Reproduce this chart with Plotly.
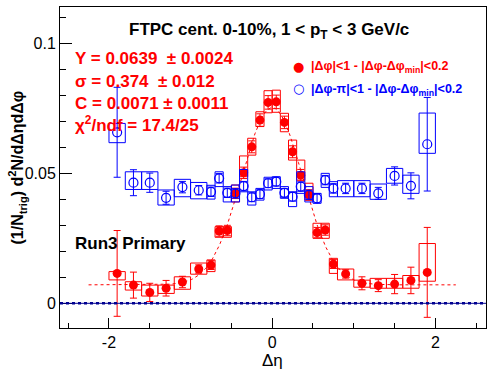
import numpy as np
import plotly.graph_objects as go

# ---------------- data ----------------
eta = [-1.9, -1.7, -1.5, -1.3, -1.1, -0.9, -0.75, -0.65, -0.55, -0.45, -0.35, -0.25, -0.15, -0.05,
       0.05, 0.15, 0.25, 0.35, 0.45, 0.55, 0.65, 0.75, 0.9, 1.1, 1.3, 1.5, 1.7, 1.9]
bin_w = [0.2, 0.2, 0.2, 0.2, 0.2, 0.2, 0.1, 0.1, 0.1, 0.1, 0.1, 0.1, 0.1, 0.1,
         0.1, 0.1, 0.1, 0.1, 0.1, 0.1, 0.1, 0.1, 0.2, 0.2, 0.2, 0.2, 0.2, 0.2]

# near side: |dphi|<1
red_y = [0.0115, 0.0070, 0.0042, 0.0058, 0.0082, 0.0132, 0.0147, 0.0278, 0.0280, 0.0423, 0.0502, 0.0602, 0.0705, 0.0773,
         0.0775, 0.0696, 0.0583, 0.0493, 0.0417, 0.0272, 0.0282, 0.0151, 0.0113, 0.0077, 0.0068, 0.0074, 0.0088, 0.0119]
red_stat = [0.0165, 0.0050, 0.0035, 0.0030, 0.0022, 0.0016, 0.0017, 0.0020, 0.0020, 0.0020, 0.0022, 0.0023, 0.0024, 0.0026,
            0.0026, 0.0024, 0.0023, 0.0022, 0.0020, 0.0020, 0.0020, 0.0017, 0.0016, 0.0025, 0.0023, 0.0037, 0.0051, 0.0173]
red_sys_lo = [0.0025, 0.0019, 0.0014, 0.0020, 0.0028, 0.0020, 0.0025, 0.0024, 0.0026, 0.0033, 0.0015, 0.0032, 0.0025, 0.0040,
              0.0040, 0.0036, 0.0032, 0.0019, 0.0020, 0.0022, 0.0032, 0.0036, 0.0023, 0.0015, 0.0010, 0.0016, 0.0030, 0.0034]
red_sys_hi = [0.0007, 0.0013, 0.0028, 0.0012, 0.0020, 0.0023, 0.0020, 0.0017, 0.0015, 0.0032, 0.0065, 0.0033, 0.0032, 0.0045,
              0.0045, 0.0035, 0.0045, 0.0058, 0.0045, 0.0036, 0.0026, 0.0022, 0.0019, 0.0012, 0.0028, 0.0022, 0.0019, 0.0111]

# away side: |dphi-pi|<1
blue_y = [0.0658, 0.0464, 0.0464, 0.0406, 0.0447, 0.0435, 0.0429, 0.0481, 0.0425, 0.0423, 0.0451, 0.0408, 0.0420, 0.0462,
          0.0468, 0.0425, 0.0410, 0.0449, 0.0417, 0.0404, 0.0474, 0.0442, 0.0442, 0.0442, 0.0423, 0.0490, 0.0452, 0.0612]
blue_stat = [0.0173, 0.0050, 0.0037, 0.0025, 0.0022, 0.0018, 0.0018, 0.0018, 0.0018, 0.0018, 0.0018, 0.0017, 0.0017, 0.0017,
             0.0017, 0.0017, 0.0017, 0.0018, 0.0018, 0.0018, 0.0018, 0.0018, 0.0020, 0.0020, 0.0023, 0.0035, 0.0050, 0.0180]
blue_sys_lo = [0.0040, 0.0026, 0.0026, 0.0028, 0.0037, 0.0033, 0.0028, 0.0032, 0.0035, 0.0033, 0.0022, 0.0030, 0.0023, 0.0026,
               0.0026, 0.0021, 0.0038, 0.0026, 0.0027, 0.0019, 0.0028, 0.0032, 0.0032, 0.0032, 0.0023, 0.0028, 0.0029, 0.0035]
blue_sys_hi = [0.0034, 0.0042, 0.0042, 0.0030, 0.0030, 0.0030, 0.0025, 0.0025, 0.0024, 0.0032, 0.0064, 0.0021, 0.0022, 0.0023,
               0.0019, 0.0024, 0.0019, 0.0057, 0.0032, 0.0019, 0.0026, 0.0026, 0.0030, 0.0030, 0.0036, 0.0029, 0.0041, 0.0120]

# fit parameters (Gaussian + constant), as printed on the chart
fit_Y, fit_sigma, fit_C = 0.0639, 0.374, 0.0071
fit_lo, fit_hi = -2.25, 2.25

RED = "#ff0000"
BLUE = "#0000ff"
FONT = "Liberation Sans, Arial, Helvetica, sans-serif"


def box_outline(xc, w, y, lo, hi):
    xs, ys = [], []
    for c, ww, v, l, h in zip(xc, w, y, lo, hi):
        x0, x1 = c - ww / 2, c + ww / 2
        y0, y1 = v - l, v + h
        xs += [x0, x1, x1, x0, x0, None]
        ys += [y0, y0, y1, y1, y0, None]
    return xs, ys


fig = go.Figure()

# fit curve
xf = np.linspace(fit_lo, fit_hi, 400)
yf = fit_C + fit_Y / (np.sqrt(2 * np.pi) * fit_sigma) * np.exp(-xf ** 2 / (2 * fit_sigma ** 2))
fig.add_trace(go.Scatter(x=xf, y=yf, mode="lines", line=dict(color=RED, width=1, dash="3px,3px"),
                         showlegend=False, hoverinfo="skip"))

# red systematic boxes + points
bx, by = box_outline(eta, bin_w, red_y, red_sys_lo, red_sys_hi)
fig.add_trace(go.Scatter(x=bx, y=by, mode="lines", line=dict(color=RED, width=1),
                         showlegend=False, hoverinfo="skip"))
fig.add_trace(go.Scatter(x=eta, y=red_y, mode="markers",
                         marker=dict(symbol="circle", size=9, color=RED),
                         error_y=dict(type="data", array=red_stat, color=RED, thickness=1, width=3.5),
                         name="|Δφ|<1 - |Δφ-Δφmin|<0.2", showlegend=False))

# blue systematic boxes + points
bx, by = box_outline(eta, bin_w, blue_y, blue_sys_lo, blue_sys_hi)
fig.add_trace(go.Scatter(x=bx, y=by, mode="lines", line=dict(color=BLUE, width=1),
                         showlegend=False, hoverinfo="skip"))
fig.add_trace(go.Scatter(x=eta, y=blue_y, mode="markers",
                         marker=dict(symbol="circle-open", size=9, color=BLUE, line=dict(width=1.2, color=BLUE)),
                         error_y=dict(type="data", array=blue_stat, color=BLUE, thickness=1, width=3.5),
                         name="|Δφ-π|<1 - |Δφ-Δφmin|<0.2", showlegend=False))

# zero line
fig.add_shape(type="line", xref="paper", x0=0, x1=1, yref="y", y0=0, y1=0,
              line=dict(color="#000090", width=1), layer="above")
fig.add_shape(type="line", xref="paper", x0=0, x1=1, yref="y", y0=0, y1=0,
              line=dict(color="#000090", width=2.5, dash="dot"), layer="above")

W, H = 496, 374
L, R, T, B = 60, 10, 7, 46


def px(xpix):
    return (xpix - L) / (W - L - R)


def py(ypix):
    return (H - B - ypix) / (H - T - B)


ann = []
ann.append(dict(x=px(269), y=py(31), text="<b>FTPC cent. 0-10%, 1 &lt; p<sub>T</sub> &lt; 3 GeV/c</b>",
                font=dict(size=17, color="black", family=FONT), xanchor="center", yanchor="middle"))
stat_lines = ["<b>Y = 0.0639  ± 0.0024</b>", "<b>σ = 0.374  ± 0.012</b>",
              "<b>C = 0.0071 ± 0.0011</b>", "<b>χ<sup>2</sup>/ndf = 17.4/25</b>"]
stat_y = [58, 81.5, 103.5, 124]
for t, yy in zip(stat_lines, stat_y):
    ann.append(dict(x=px(73), y=py(yy), text=t, font=dict(size=17, color=RED, family=FONT),
                    xanchor="left", yanchor="middle"))
ann.append(dict(x=px(73), y=py(243), text="<b>Run3 Primary</b>",
                font=dict(size=17, color="black", family=FONT), xanchor="left", yanchor="middle"))
# legend
ann.append(dict(x=px(298.5), y=py(66), text="●", font=dict(size=13, color=RED, family="DejaVu Sans"),
                xanchor="center", yanchor="middle"))
ann.append(dict(x=px(298.5), y=py(88.5), text="○", font=dict(size=13, color=BLUE, family="DejaVu Sans"),
                xanchor="center", yanchor="middle"))
ann.append(dict(x=px(309), y=py(67), text="<b>|Δφ|&lt;1 - |Δφ-Δφ<sub>min</sub>|&lt;0.2</b>",
                font=dict(size=12.5, color=RED, family=FONT), xanchor="left", yanchor="middle"))
ann.append(dict(x=px(309), y=py(90), text="<b>|Δφ-π|&lt;1 - |Δφ-Δφ<sub>min</sub>|&lt;0.2</b>",
                font=dict(size=12.5, color=BLUE, family=FONT), xanchor="left", yanchor="middle"))
# axis titles
ann.append(dict(x=px(17), y=0.5, text="<b>(1/N<sub>trig</sub>) d<sup>2</sup>N/dΔηdΔφ</b>", textangle=-90,
                font=dict(size=16, color="black", family=FONT), xanchor="center", yanchor="middle"))
ann.append(dict(x=px(272), y=py(360), text="Δη",
                font=dict(size=17, color="black", family=FONT), xanchor="center", yanchor="middle"))
for a in ann:
    a.update(xref="paper", yref="paper", showarrow=False)

fig.update_layout(
    width=W, height=H, margin=dict(l=L, r=R, t=T, b=B, autoexpand=False),
    plot_bgcolor="white", paper_bgcolor="white",
    font=dict(family=FONT, color="black"),
    annotations=ann, showlegend=False,
    xaxis=dict(range=[-2.6, 2.62], showline=True, linecolor="black", linewidth=1, mirror=True,
               ticks="inside", ticklen=10, tickcolor="black", tickwidth=1, automargin=False,
               tickmode="array", tickvals=[-2, 0, 2], ticktext=["-2", "0", "2"],
               minor=dict(tickmode="linear", tick0=0, dtick=0.5, ticks="inside", ticklen=5, tickcolor="black"),
               showgrid=False, zeroline=False, tickfont=dict(size=16, family=FONT)),
    yaxis=dict(range=[-0.0095, 0.114], showline=True, linecolor="black", linewidth=1, mirror=True,
               ticks="inside", ticklen=12, tickcolor="black", tickwidth=1, automargin=False,
               tickmode="array", tickvals=[0, 0.05, 0.1], ticktext=["0", "0.05", "0.1"],
               minor=dict(tickmode="linear", tick0=0, dtick=0.01, ticks="inside", ticklen=6, tickcolor="black"),
               showgrid=False, zeroline=False, tickfont=dict(size=16, family=FONT)),
)

# the page's default 8px body margin would shift the figure; remove it
fig.write_html("out.html", config={"displayModeBar": False},
               post_script="document.body.style.margin='0px';")
